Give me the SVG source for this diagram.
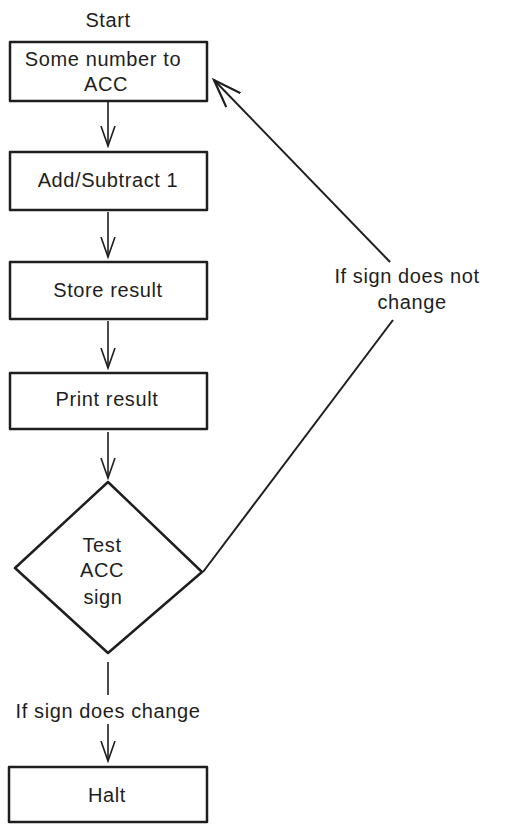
<svg xmlns="http://www.w3.org/2000/svg" width="508" height="831" viewBox="0 0 508 831">
<style>
.box{fill:#fff;stroke:#1e1e1e;stroke-width:2.5;stroke-linejoin:round}
.edge{fill:none;stroke:#1e1e1e;stroke-width:1.6}
.t{font-family:"Liberation Sans",Arial,sans-serif;font-size:20px;letter-spacing:0.6px;fill:#1e1e1e;text-anchor:middle;dominant-baseline:central}
</style>
<defs>
<marker id="v" markerUnits="userSpaceOnUse" markerWidth="30" markerHeight="30" refX="20" refY="10" orient="auto" viewBox="0 0 30 20">
<path d="M0,3 L20,10 L0,17" fill="none" stroke="#1e1e1e" stroke-width="1.6"/>
</marker>
<marker id="vb" markerUnits="userSpaceOnUse" markerWidth="40" markerHeight="40" refX="28" refY="14" orient="auto" viewBox="0 0 40 28">
<path d="M0,4 L28,14 L0,24" fill="none" stroke="#1e1e1e" stroke-width="2.2"/>
</marker>
</defs>
<rect width="508" height="831" fill="#fff"/>
<g id="start-label"><text class="t" x="108" y="20">Start</text></g>
<g id="connectors">
<path class="edge" d="M108,102 L108,146" marker-end="url(#v)"/>
<path class="edge" d="M108,212 L108,257" marker-end="url(#v)"/>
<path class="edge" d="M108,321 L108,368" marker-end="url(#v)"/>
<path class="edge" d="M108,432 L108,478" marker-end="url(#v)"/>
<path class="edge" d="M108,662 L108,695"/>
<path class="edge" d="M108,724 L108,761" marker-end="url(#v)"/>
<path class="edge" d="M203,572 L393,320" style="stroke-width:2"/>
<path class="edge" d="M390,262 L214,80" style="stroke-width:2" marker-end="url(#vb)"/>
<text class="t" x="108" y="711">If sign does change</text>
<text class="t" x="407" y="276">If sign does not</text>
<text class="t" x="412" y="302">change</text>
</g>
<g id="n1">
<rect class="box" x="10" y="42" width="197" height="59"/>
<text class="t" x="103" y="59">Some number to</text>
<text class="t" x="106" y="84">ACC</text>
</g>
<g id="n2">
<rect class="box" x="10" y="152" width="197" height="58"/>
<text class="t" x="108" y="180">Add/Subtract 1</text>
</g>
<g id="n3">
<rect class="box" x="10" y="262" width="197" height="57"/>
<text class="t" x="108" y="290">Store result</text>
</g>
<g id="n4">
<rect class="box" x="10" y="373" width="197" height="56"/>
<text class="t" x="107" y="399">Print result</text>
</g>
<g id="n5">
<path class="box" d="M108,482 L202,572 L108,653 L15,568 Z"/>
<text class="t" x="102" y="545">Test</text>
<text class="t" x="102" y="570">ACC</text>
<text class="t" x="103" y="597">sign</text>
</g>
<g id="n6">
<rect class="box" x="9" y="767" width="198" height="55"/>
<text class="t" x="107" y="795">Halt</text>
</g>
</svg>
